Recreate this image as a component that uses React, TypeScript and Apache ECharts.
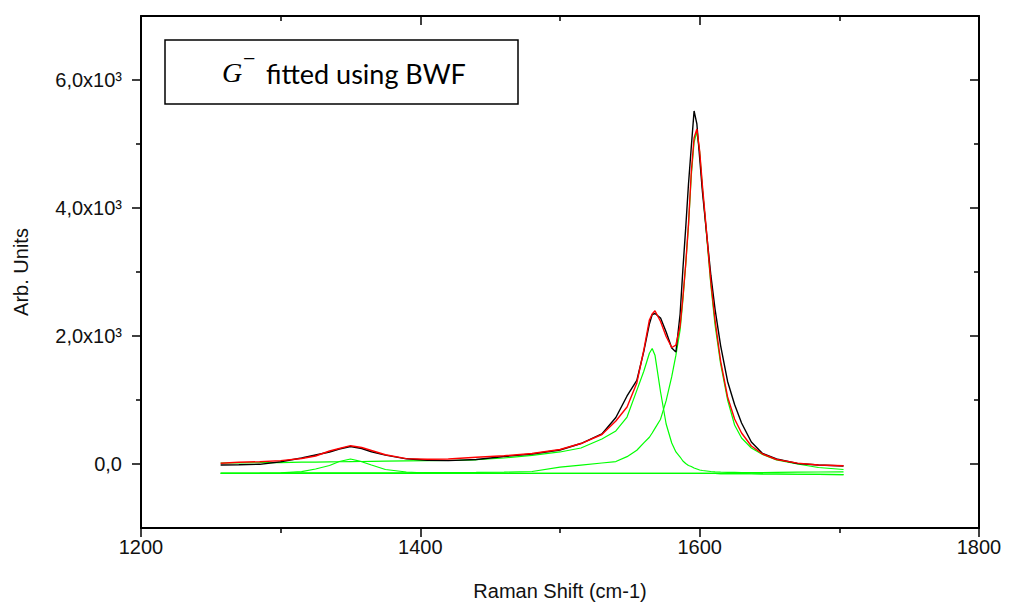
import React, { useEffect, useRef } from "react";
import * as echarts from "echarts";

// Raman shift (cm-1) sample positions
const ramanShift = [
  1257, 1270, 1285, 1300, 1315, 1325, 1335, 1342, 1350, 1358,
  1365, 1375, 1390, 1405, 1420, 1440, 1460, 1480, 1500, 1515,
  1530, 1540, 1548, 1555, 1560, 1564, 1566, 1568, 1572, 1576,
  1580, 1583, 1586, 1588, 1590, 1592, 1594, 1596, 1598, 1600,
  1602, 1605, 1608, 1611, 1615, 1620, 1625, 1630, 1637, 1645,
  1655, 1670, 1685, 1703,
];

// measured spectrum (black)
const measured = [
  -16, -11, -5, 36, 94, 141, 188, 234, 273, 242,
  192, 138, 81, 58, 52, 70, 117, 156, 219, 320,
  469, 727, 1063, 1305, 1760, 2188, 2336, 2352, 2281, 2063,
  1813, 1750, 2344, 3047, 3688, 4375, 4953, 5516, 5313, 4781,
  4250, 3594, 2950, 2420, 1850, 1290, 930, 640, 344, 164,
  78, 8, -16, -31,
];

// cumulative fit (red)
const fitted = [
  11, 27, 36, 52, 86, 125, 203, 242, 286, 258,
  211, 145, 84, 75, 78, 106, 128, 164, 227, 320,
  461, 672, 891, 1266, 1781, 2250, 2344, 2395, 2227, 1992,
  1820, 1859, 2156, 2609, 3125, 3750, 4563, 5094, 5234, 4891,
  4344, 3609, 2844, 2250, 1609, 1047, 703, 484, 281, 156,
  70, 13, -16, -27,
];

// fitted components (green)
const peakGminus = [
  16, 19, 20, 23, 28, 30, 33, 35, 37, 39,
  41, 44, 48, 52, 55, 66, 94, 136, 188, 250,
  391, 516, 734, 1150, 1450, 1730, 1805, 1700, 1125, 625,
  328, 188, 109, 47, 8, -23, -39, -63, -78, -94,
  -102, -109, -117, -122, -127, -130, -131, -133, -133, -133,
  -131, -128, -125, -122,
];

const peakGplus = [
  -141, -141, -141, -141, -140, -140, -140, -140, -139, -139,
  -139, -138, -137, -136, -134, -131, -127, -117, -50, -17,
  16, 38, 115, 215, 330, 418, 484, 557, 700, 990,
  1364, 1700, 2094, 2563, 3109, 3719, 4500, 5031, 5188, 4875,
  4313, 3563, 2797, 2172, 1563, 1000, 609, 406, 250, 148,
  63, 0, -55, -86,
];

const peakD = [
  -145, -145, -144, -138, -120, -78, -23, 39, 78, 36,
  -16, -86, -125, -141, -145, -145, -145, -145, -145, -146,
  -146, -147, -147, -147, -147, -147, -147, -147, -147, -147,
  -147, -148, -148, -148, -148, -148, -148, -148, -148, -148,
  -148, -148, -148, -148, -150, -150, -150, -150, -152, -154,
  -156, -160, -163, -167,
];

const baseline = [
  -145, -145, -145, -145, -145, -145, -145, -145, -145, -145,
  -145, -145, -145, -145, -145, -145, -145, -145, -145, -146,
  -146, -147, -147, -147, -147, -147, -147, -147, -147, -147,
  -147, -148, -148, -148, -148, -148, -148, -148, -148, -148,
  -148, -148, -148, -148, -150, -150, -150, -150, -152, -154,
  -156, -160, -163, -167,
];

const yMajorValues = [0, 2000, 4000, 6000];
const yMinorValues = [1000, 3000, 5000];

const FONT = "'Liberation Sans', Arial, sans-serif";

function pairs(ys: number[]) {
  return ramanShift.map((x, i) => [x, ys[i]]);
}

function yLabel(v: number) {
  if (v === 0) return "0,0";
  return (v / 1000).toFixed(1).replace(".", ",") + "x10³";
}

export default function App() {
  const ref = useRef<HTMLDivElement>(null);
  useEffect(() => {
    if (!ref.current) return;
    const chart = echarts.init(ref.current, undefined, { renderer: "svg" });
    const axisLine = { show: true, onZero: false, lineStyle: { color: "#000", width: 2 } };
    const tickStyle = { color: "#000", width: 1.5 };
    const yBase = { type: "value", min: -1000, max: 7000, interval: 1000, splitLine: { show: false } };
    const xBase = { type: "value", min: 1200, max: 1800, interval: 200, splitLine: { show: false } };
    const line = (name: string, data: number[], color: string, width: number) => ({
      name,
      type: "line",
      data: pairs(data),
      showSymbol: false,
      symbol: "none",
      lineStyle: { color, width },
      itemStyle: { color },
      xAxisIndex: 0,
      yAxisIndex: 0,
    });
    chart.setOption({
      animation: false,
      backgroundColor: "#fff",
      grid: { left: 141, right: 30, top: 16, bottom: 82, containLabel: false },
      xAxis: [
        {
          ...xBase,
          position: "bottom",
          axisLine,
          axisTick: { show: true, length: 9, lineStyle: tickStyle },
          minorTick: { show: true, splitNumber: 2, length: 5, lineStyle: tickStyle },
          axisLabel: {
            fontSize: 20,
            fontFamily: FONT,
            color: "#111",
            margin: 9,
            formatter: (v: number) => String(v),
          },
          name: "Raman Shift (cm-1)",
          nameLocation: "middle",
          nameGap: 53,
          nameTextStyle: { fontSize: 20, fontFamily: FONT, color: "#111" },
        },
        {
          ...xBase,
          position: "top",
          axisLine,
          axisTick: { show: true, inside: true, length: 9, lineStyle: tickStyle },
          minorTick: { show: true, splitNumber: 2, length: 5, lineStyle: tickStyle },
          axisLabel: { show: false },
        },
      ],
      yAxis: [
        {
          ...yBase,
          position: "left",
          axisLine,
          axisTick: { show: true, length: 9, customValues: yMajorValues, lineStyle: tickStyle },
          axisLabel: {
            customValues: yMajorValues,
            formatter: yLabel,
            fontSize: 20,
            fontFamily: FONT,
            color: "#111",
            margin: 19,
          },
          name: "Arb. Units",
          nameLocation: "middle",
          nameGap: 110,
          nameRotate: 90,
          nameTextStyle: { fontSize: 20, fontFamily: FONT, color: "#111" },
        },
        {
          ...yBase,
          position: "left",
          axisLine: { show: false },
          axisTick: { show: true, length: 5, customValues: yMinorValues, lineStyle: tickStyle },
          axisLabel: { show: false },
        },
        {
          ...yBase,
          position: "right",
          axisLine,
          axisTick: { show: true, inside: true, length: 9, customValues: yMajorValues, lineStyle: tickStyle },
          axisLabel: { show: false },
        },
        {
          ...yBase,
          position: "right",
          axisLine: { show: false },
          axisTick: { show: true, inside: true, length: 5, customValues: yMinorValues, lineStyle: tickStyle },
          axisLabel: { show: false },
        },
      ],
      series: [
        line("Baseline", baseline, "#00ff00", 1.2),
        line("D", peakD, "#00ff00", 1.2),
        line("G- (BWF)", peakGminus, "#00ff00", 1.2),
        line("G+", peakGplus, "#00ff00", 1.2),
        line("Measured", measured, "#000000", 1.4),
        line("Fit", fitted, "#ff0000", 1.4),
      ],
      graphic: [
        {
          type: "rect",
          z: 100,
          shape: { x: 165, y: 40, width: 353, height: 64 },
          style: { fill: "#fff", stroke: "#000", lineWidth: 1.5 },
        },
        {
          type: "text",
          z: 101,
          x: 222,
          y: 72,
          style: {
            text: "G",
            fontSize: 28,
            fontStyle: "italic",
            fontFamily: "'Liberation Serif', 'DejaVu Serif', serif",
            fill: "#000",
            verticalAlign: "middle",
            align: "left",
          },
        },
        {
          type: "text",
          z: 101,
          x: 243,
          y: 58,
          style: {
            text: "−",
            fontSize: 22,
            fontFamily: "'Liberation Serif', 'DejaVu Serif', serif",
            fill: "#000",
            verticalAlign: "middle",
            align: "left",
          },
        },
        {
          type: "text",
          z: 101,
          x: 266,
          y: 73,
          style: {
            text: "fitted using BWF",
            fontSize: 27,
            fontFamily: "Lato, 'Open Sans', sans-serif",
            fill: "#000",
            verticalAlign: "middle",
            align: "left",
          },
        },
      ],
    });
    return () => chart.dispose();
  }, []);
  return (
    <div
      ref={ref}
      style={{ position: "fixed", left: 0, top: 0, width: 1009, height: 610, background: "#fff" }}
    />
  );
}
